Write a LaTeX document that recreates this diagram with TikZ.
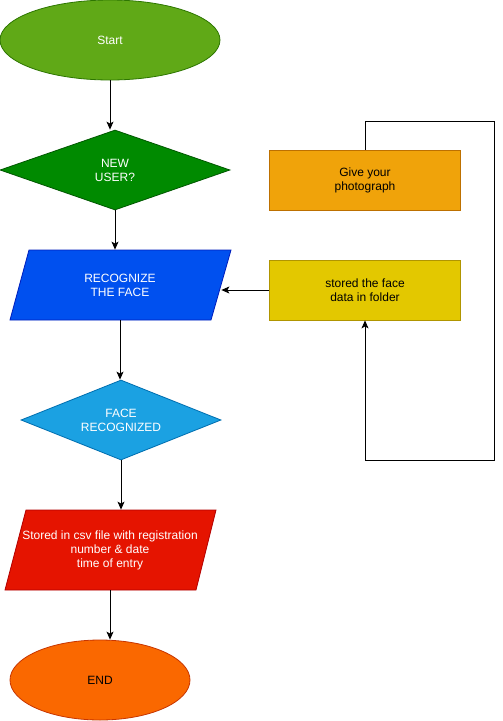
\documentclass[tikz,border=0pt]{standalone}
\usepackage{fontspec}
\setmainfont{Liberation Sans}
\usetikzlibrary{calc, shapes.geometric, positioning, arrows.meta}
\usepackage{color}
\definecolor{startfill}{HTML}{60A917}
\definecolor{startline}{HTML}{2D7600}
\definecolor{userfill}{HTML}{008A00}
\definecolor{userline}{HTML}{005700}
\definecolor{recogfill}{HTML}{0050EF}
\definecolor{recogline}{HTML}{001DBC}
\definecolor{facefill}{HTML}{1BA1E2}
\definecolor{faceline}{HTML}{006EAF}
\definecolor{csvfill}{HTML}{E51400}
\definecolor{csvline}{HTML}{B20000}
\definecolor{endfill}{HTML}{FA6800}
\definecolor{endline}{HTML}{C73500}
\definecolor{photofill}{HTML}{F0A30A}
\definecolor{photoline}{HTML}{BD7000}
\definecolor{folderfill}{HTML}{E3C800}
\definecolor{folderline}{HTML}{B09500}

\begin{document}
\begin{tikzpicture}[x=1pt, y=-1pt, >={Stealth[length=8pt, width=7pt, inset=2pt]}, line width=0.8pt,
  txt/.style={font=\fontsize{12}{14}\selectfont, align=center, inner sep=0pt},
  term/.style={txt, ellipse, minimum height=80pt},
  decide/.style={txt, diamond, aspect=2.5, minimum height=80pt, text=white},
  io/.style={txt, rectangle, text=white},
  proc/.style={txt, rectangle, minimum width=191pt, minimum height=60pt}]
\useasboundingbox (0,0) rectangle (503,721);
\filldraw[fill=recogfill, draw=recogline] (10,320) -- (211,320) -- (231,250) -- (29,250) -- cycle;
\filldraw[fill=csvfill, draw=csvline] (5,590) -- (196,590) -- (216,510) -- (26,510) -- cycle;
\node[term, fill=startfill, draw=startline, minimum width=220pt, text=white] (start) at (110,40) {Start};
\node[decide, fill=userfill, draw=userline, minimum width=230pt] (newuser) at (115,170) {NEW\\USER?};
\node[io, minimum width=202pt, minimum height=70pt] (recog) at (120,285) {RECOGNIZE\\THE FACE};
\node[decide, fill=facefill, draw=faceline, minimum width=200pt] (facerec) at (121,420) {FACE\\RECOGNIZED};
\node[io, minimum width=191pt, minimum height=80pt] (csv) at (110,550) {Stored in csv file with registration\\number \& date\\time of entry};
\node[term, fill=endfill, draw=endline, minimum width=180pt] (end) at (100,680) {END};
\node[proc, fill=photofill, draw=photoline] (photo) at (365,180) {Give your\\photograph};
\node[proc, fill=folderfill, draw=folderline] (folder) at (365,290) {stored the face\\data in folder};
\coordinate (loopt) at (494,121);
\coordinate (loopb) at (494,460);
\draw[->] (start.south) -- (start.south |- newuser.north);
\draw[->] (newuser.south) -- (newuser.south |- recog.north);
\draw[->] (recog.south) -- (recog.south |- facerec.north);
\draw[->] (facerec.south) -- (facerec.south |- csv.north);
\draw[->] (csv.south) -- (csv.south |- end.north);
\draw[->] (folder.west) -- (folder.west -| recog.east);
\draw[->] (photo.north) |- (loopt) -- (loopb) -| (folder.south);
\end{tikzpicture}
\end{document}
